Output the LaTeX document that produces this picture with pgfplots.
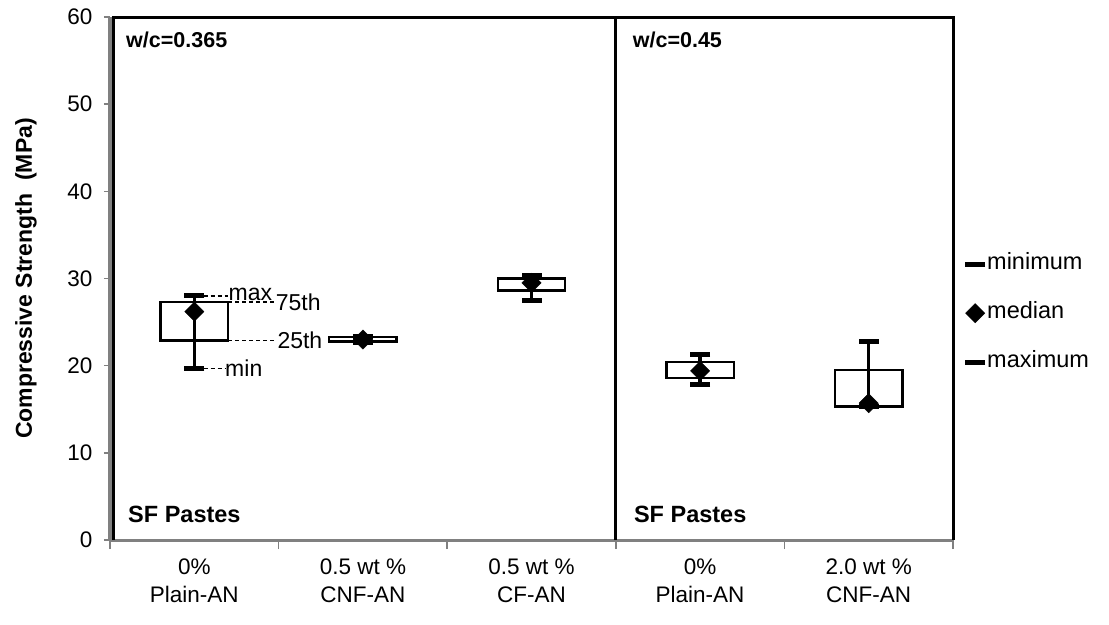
\documentclass[border=0pt]{standalone}
\usepackage{fontspec}
\setmainfont{Liberation Sans}
\usepackage{pgfplots}
\usepackage{pgfplotstable}
\pgfplotsset{compat=1.18}
\usepgfplotslibrary{statistics}

% compressive strength statistics per mix (MPa)
\pgfplotstableread{
x  min   qa    med   qb    max
1  19.7  22.9  26.2  27.3  28.0
2  22.7  22.8  23.0  23.3  23.4
3  27.5  28.6  29.5  30.0  30.4
4  17.8  18.6  19.4  20.4  21.3
5  15.3  15.3  15.7  19.5  22.8
}\strength

\newcommand{\fs}[1]{\fontsize{#1bp}{1.25\dimexpr #1bp\relax}\selectfont}

\begin{document}
\begin{tikzpicture}
\useasboundingbox (0,0) rectangle (1109bp,-625bp);
\begin{axis}[
  at={(110bp,-540bp)}, anchor=south west,
  scale only axis, width=843bp, height=523bp,
  xmin=0.5, xmax=5.5, ymin=0, ymax=60,
  clip=false,
  axis x line*=bottom, axis y line*=left,
  axis line style={draw=gray, line width=3bp},
  ytick={0,10,...,60},
  xtick={1,...,5},
  xticklabels={{0\%\\Plain-AN},{0.5 wt \%\\CNF-AN},{0.5 wt \%\\CF-AN},{0\%\\Plain-AN},{2.0 wt \%\\CNF-AN}},
  minor xtick={0.5,1.5,...,5.5},
  major x tick style={draw=none},
  tick align=outside,
  major tick length=6bp, minor tick length=9bp,
  tick style={draw=gray, line width=1.5bp},
  /pgf/number format/assume math mode=true,
  ticklabel style={font=\fs{22.5}},
  xticklabel style={align=center, yshift=-9bp},
  yticklabel style={xshift=-8bp},
  ylabel={Compressive Strength\ \ (MPa)},
  ylabel style={font=\bfseries\fs{23}, at={(axis description cs:-0.0996,0.5)}, anchor=center},
  legend style={at={(1.0142,0.5516)}, anchor=north west, draw=none, fill=none,
    font=\fs{23.5}, row sep=24bp, inner sep=0pt,
    nodes={text height=16bp, text depth=5bp}},
  legend cell align=left,
  boxplot/draw direction=y,
  boxplot/box extend=0.4,
  boxplot/draw/median/.code={},
  boxplot/draw/lower whisker/.code={},
  boxplot/draw/upper whisker/.code={},
  box/.style={draw=black, fill=white, line width=2.5bp, solid, forget plot},
]
% panel frame and separator between the two w/c ratios
\draw[black, line width=3bp] ([xshift=3bp]axis cs:0.5,0) -- ([xshift=3bp]axis cs:0.5,60) -- (axis cs:5.5,60) -- (axis cs:5.5,0);
\draw[black, line width=3bp] (axis cs:3.5,0) -- (axis cs:3.5,60);

% interquartile boxes (25th to 75th percentile)
\addplot[box, boxplot prepared={draw position=1, lower whisker=22.9, lower quartile=22.9, median=26.2, upper quartile=27.3, upper whisker=27.3}] coordinates {};
\addplot[box, boxplot prepared={draw position=2, lower whisker=22.8, lower quartile=22.8, median=23.0, upper quartile=23.3, upper whisker=23.3}] coordinates {};
\addplot[box, boxplot prepared={draw position=3, lower whisker=28.6, lower quartile=28.6, median=29.5, upper quartile=30.0, upper whisker=30.0}] coordinates {};
\addplot[box, boxplot prepared={draw position=4, lower whisker=18.6, lower quartile=18.6, median=19.4, upper quartile=20.4, upper whisker=20.4}] coordinates {};
\addplot[box, boxplot prepared={draw position=5, lower whisker=15.3, lower quartile=15.3, median=15.7, upper quartile=19.5, upper whisker=19.5}] coordinates {};

% whiskers from minimum to maximum
\addplot[draw=none, mark=none, forget plot,
  error bars/.cd, y dir=both, y explicit, error mark=none,
  error bar style={draw=black, line width=3.5bp}]
  table[x=x, y=med, y error plus expr=\thisrow{max}-\thisrow{med},
        y error minus expr=\thisrow{med}-\thisrow{min}] {\strength};

\addplot[only marks, mark=-, mark size=10bp, mark options={draw=black, line width=5bp}]
  table[x=x, y=min] {\strength};
\addlegendentry{minimum}
\addplot[only marks, mark=square*, mark size=6.8bp, mark options={rotate=45, draw=black, fill=black}]
  table[x=x, y=med] {\strength};
\addlegendentry{median}
\addplot[only marks, mark=-, mark size=10bp, mark options={draw=black, line width=5bp}]
  table[x=x, y=max] {\strength};
\addlegendentry{maximum}

% key for the first box
\draw[dash pattern=on 4bp off 3bp, line width=1.2bp] (axis cs:1.055,28.0) -- (axis cs:1.2,28.0)
  node[anchor=west, inner sep=0pt, font=\fs{23}, yshift=2bp] {max};
\draw[dash pattern=on 4bp off 3bp, line width=1.2bp] (axis cs:1.2,27.3) -- (axis cs:1.48,27.3)
  node[anchor=west, inner sep=0pt, font=\fs{23}] {75th};
\draw[dash pattern=on 4bp off 3bp, line width=1.2bp] (axis cs:1.2,22.9) -- (axis cs:1.49,22.9)
  node[anchor=west, inner sep=0pt, font=\fs{23}] {25th};
\draw[dash pattern=on 4bp off 3bp, line width=1.2bp] (axis cs:1.055,19.7) -- (axis cs:1.18,19.7)
  node[anchor=west, inner sep=0pt, font=\fs{23}] {min};

% panel captions
\node[anchor=west, inner sep=0pt, font=\bfseries\fs{21.5}] at (axis cs:0.595,57.4) {w/c=0.365};
\node[anchor=west, inner sep=0pt, font=\bfseries\fs{21.5}] at (axis cs:3.60,57.4) {w/c=0.45};
\node[anchor=west, inner sep=0pt, font=\bfseries\fs{23.5}] at (axis cs:0.607,2.9) {SF Pastes};
\node[anchor=west, inner sep=0pt, font=\bfseries\fs{23.5}] at (axis cs:3.607,2.9) {SF Pastes};
\end{axis}
\end{tikzpicture}
\end{document}
